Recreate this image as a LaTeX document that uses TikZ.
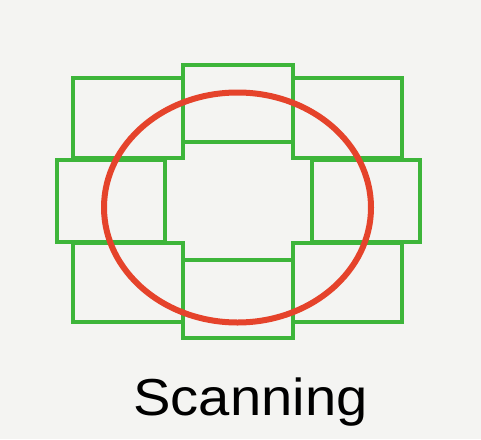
\documentclass[tikz,border=0pt]{standalone}
\usepackage{fontspec}
\setmainfont{Liberation Sans}
\definecolor{bgc}{HTML}{F4F4F2}
\definecolor{grn}{HTML}{3DB53A}
\definecolor{redc}{HTML}{E5432B}
\begin{document}
\begin{tikzpicture}[x=1pt,y=-1pt,
  sq/.style={draw=grn,line width=3.6pt},
  ring/.style={draw=redc,line width=6pt}]
\fill[bgc] (0,0) rectangle (481,439);
\useasboundingbox (0,0) rectangle (481,439);
% corner squares
\draw[sq] (73,78) rectangle (183,158);
\draw[sq] (293,78) rectangle (402,158);
\draw[sq] (73,243) rectangle (183,322);
\draw[sq] (293,243) rectangle (402,322);
% middle squares
\draw[sq] (183,65) rectangle (293,142);
\draw[sq] (183,260) rectangle (293,338);
\draw[sq] (57,160) rectangle (165,242);
\draw[sq] (312,160) rectangle (420,242);
% circle
\draw[ring] (237.5,207.5) ellipse [x radius=133.5, y radius=115];
\node[anchor=base, inner sep=0pt, xscale=1.08, font=\fontsize{52}{60}\selectfont, text=black] (lbl) at (250.5,415) {Scanning};
\end{tikzpicture}
\end{document}
